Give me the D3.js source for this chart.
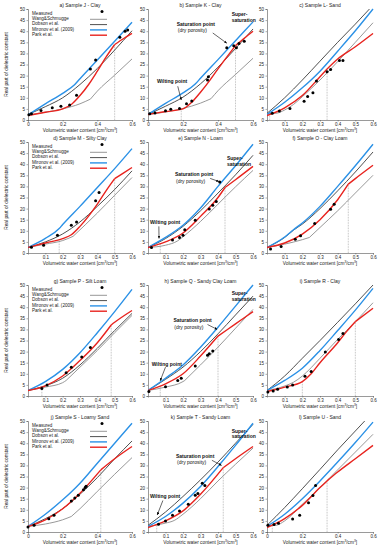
<!DOCTYPE html>
<html><head><meta charset="utf-8">
<script src="https://cdn.jsdelivr.net/npm/d3@7"></script>
<style>
html,body{margin:0;padding:0;background:#fff;}
svg{display:block;font-family:"Liberation Sans",Arial,sans-serif;}
</style></head><body>
<script>
// ---------- DATA ----------
const titles = ["a) Sample J - Clay","b) Sample K - Clay","c) Sample L- Sand",
  "d) Sample M - Silty Clay","e) Sample N - Loam","f) Sample O - Clay Loam",
  "g) Sample P - Silt Loam","h) Sample Q - Sandy Clay Loam","i) Sample R - Clay",
  "j) Sample S - Loamy Sand","k) Sample T - Sandy Loam","l) Sample U - Sand"];
const seriesNames = ["Measured","Wang&Schmugge","Dobson et al.","Mironov et al. (2009)","Park et al."];
const yTicks = [0,5,10,15,20,25,30,35,40,45,50];
const xTicksCoarse = [0,0.2,0.4,0.6];
const xTicksFine = [0.1,0.2,0.3,0.4,0.5,0.6];

const measured = [
 [[0.005,2.4],[0.02,2.8],[0.075,4.3],[0.14,5.5],[0.19,6.2],[0.24,6.8],[0.28,11.2],[0.36,23],[0.39,27],[0.53,37.3],[0.56,40],[0.575,40.5]],
 [[0.01,2.8],[0.04,3.2],[0.1,4.2],[0.13,4.8],[0.18,5.2],[0.22,7.3],[0.25,8.6],[0.34,18],[0.345,19.5],[0.45,32.5],[0.49,33.5],[0.505,32.5],[0.52,34.5],[0.55,35.5]],
 [[0.03,3],[0.07,4],[0.13,5.2],[0.21,8.5],[0.23,10.6],[0.26,12.3],[0.28,17.6],[0.34,21.7],[0.36,22.8],[0.41,26.8],[0.43,26.8]],
 [[0.02,2.6],[0.09,3.5],[0.17,8],[0.25,12.5],[0.28,14],[0.39,23.5],[0.41,27.3]],
 [[0.02,2.5],[0.14,5.8],[0.18,7],[0.2,8],[0.21,10.5],[0.27,14.8],[0.35,19.8],[0.37,21.5],[0.39,23.2],[0.41,32]],
 [[0.02,1.8],[0.08,2.9],[0.16,6.2],[0.19,7.8],[0.27,13.3],[0.36,19.7],[0.38,22]],
 [[0.08,3.4],[0.11,4.9],[0.22,10.5],[0.25,13],[0.31,17.6],[0.36,21.8]],
 [[0.005,2],[0.1,4.2],[0.17,7],[0.19,8],[0.27,13.5],[0.34,18.3],[0.35,19],[0.37,20.3]],
 [[0.005,1.8],[0.035,2.3],[0.06,3],[0.115,4.1],[0.145,5],[0.215,8.9],[0.25,11],[0.33,19.8],[0.405,25.5],[0.43,28.2]],
 [[0.0,2.3],[0.035,3],[0.12,6],[0.15,7.5],[0.25,14],[0.27,15.3],[0.29,16.5],[0.32,19],[0.33,20],[0.335,20.6]],
 [[0.06,3.5],[0.1,4.9],[0.14,7.5],[0.18,9.5],[0.23,12.5],[0.27,16.5],[0.285,17.3],[0.31,22],[0.325,21]],
 [[0.005,3],[0.04,3.4],[0.065,3.9],[0.145,5.8],[0.185,7.5],[0.235,13.2],[0.26,16.4],[0.275,21]]
];
const wang = [
 [[0,2.3],[0.1,3.5],[0.2,5],[0.3,7.3],[0.36,9.4],[0.4,13],[0.5,20.2],[0.6,27.5]],
 [[0,2.5],[0.1,3.6],[0.2,5.2],[0.3,7.6],[0.36,9.6],[0.4,13.2],[0.5,20.5],[0.6,27.8]],
 [[0,2.8],[0.05,3],[0.1,4.5],[0.15,7],[0.2,10.5],[0.3,18],[0.4,26.3],[0.5,35],[0.6,43.8]],
 [[0,2.5],[0.1,4],[0.2,5.6],[0.26,7.5],[0.4,18],[0.5,26],[0.6,34]],
 [[0,2.5],[0.1,3.5],[0.17,5.5],[0.2,7.3],[0.3,14.2],[0.4,22],[0.5,29.8],[0.6,37.2]],
 [[0,2.5],[0.1,4],[0.2,6],[0.24,7],[0.3,11.5],[0.4,19],[0.5,27],[0.6,35]],
 [[0,2.5],[0.1,4],[0.2,6],[0.22,7],[0.3,13],[0.4,20.5],[0.5,28.5],[0.6,36.3]],
 [[0,2.5],[0.1,4],[0.2,6.5],[0.21,7],[0.3,14],[0.4,22],[0.5,30.5],[0.6,39]],
 [[0,2.5],[0.1,4.5],[0.15,6.2],[0.2,9],[0.3,17],[0.4,25.5],[0.5,33.5],[0.6,42]],
 [[0,2.5],[0.1,3.6],[0.2,5.5],[0.25,7],[0.3,10.5],[0.4,18.3],[0.5,26],[0.6,33.5]],
 [[0,2.5],[0.1,4],[0.15,5.2],[0.2,8],[0.3,15],[0.4,23],[0.5,30.5],[0.6,37.8]],
 [[0,2.8],[0.05,3],[0.1,5],[0.2,12.5],[0.3,20],[0.4,28],[0.5,36],[0.6,44]]
];
const dobson = [
 [[0,2.5],[0.1,6],[0.2,10],[0.3,16],[0.4,23.2],[0.5,31.5],[0.6,40.2]],
 [[0,2.5],[0.1,6.2],[0.2,10.3],[0.3,16.3],[0.4,23.8],[0.5,32.2],[0.6,41]],
 [[0,3],[0.1,10],[0.2,18],[0.3,26.5],[0.4,35],[0.5,43.2],[0.58,50]],
 [[0,2.5],[0.1,5],[0.2,8.6],[0.3,14],[0.4,21],[0.5,28.6],[0.6,37]],
 [[0,2.5],[0.1,6.5],[0.2,12],[0.3,19],[0.4,27],[0.5,35.2],[0.6,44]],
 [[0,2.5],[0.1,7],[0.15,10.3],[0.2,13],[0.3,20],[0.4,28],[0.5,36.5],[0.6,45.5]],
 [[0,2.5],[0.1,4.6],[0.2,8],[0.3,14],[0.4,21.5],[0.5,29.5],[0.6,37.2]],
 [[0,2.5],[0.1,7.5],[0.2,13],[0.3,20],[0.4,28],[0.5,36.5],[0.6,45]],
 [[0,2.5],[0.1,9],[0.2,17],[0.3,25],[0.4,33.2],[0.5,41.5],[0.6,50]],
 [[0,2.5],[0.1,6],[0.2,10.5],[0.3,17],[0.4,24.5],[0.5,33],[0.6,41]],
 [[0,3],[0.1,9],[0.2,16],[0.3,23.5],[0.4,31.5],[0.5,40],[0.6,48.5]],
 [[0,3],[0.1,11],[0.2,19.5],[0.3,28.2],[0.4,37],[0.5,45.5],[0.553,50]]
];
const mironov = [
 [[0,2.3],[0.1,7.3],[0.2,12],[0.27,16],[0.3,18.6],[0.4,27],[0.5,35.5],[0.6,44]],
 [[0,2.5],[0.1,7.5],[0.2,12.2],[0.27,16.2],[0.3,18.8],[0.4,27.2],[0.5,35.7],[0.6,44.2]],
 [[0,2.5],[0.1,8],[0.2,14.5],[0.3,22],[0.4,31],[0.5,40.2],[0.6,50]],
 [[0,2.5],[0.1,6.6],[0.18,11],[0.2,12.8],[0.3,21],[0.4,29.5],[0.5,38],[0.6,47]],
 [[0,2.5],[0.1,7],[0.2,12.5],[0.3,20.3],[0.4,30],[0.5,39.3],[0.6,49]],
 [[0,2.5],[0.1,7.2],[0.15,10.5],[0.2,13.5],[0.3,21],[0.4,30],[0.5,39.3],[0.6,49]],
 [[0,2.5],[0.1,6.5],[0.2,12],[0.3,19.5],[0.4,28.5],[0.5,38],[0.6,48]],
 [[0,2.5],[0.1,8],[0.2,14],[0.3,22],[0.4,31],[0.5,40.5],[0.6,50]],
 [[0,2.5],[0.1,7],[0.2,12.5],[0.3,20.5],[0.4,29.5],[0.5,38.7],[0.6,48.5]],
 [[0,2.5],[0.1,8],[0.2,14.5],[0.3,22],[0.4,31],[0.5,40],[0.6,49]],
 [[0,2.5],[0.1,7],[0.2,13],[0.3,20.5],[0.4,29.5],[0.5,39],[0.6,49]],
 [[0,2.5],[0.1,8],[0.2,15],[0.3,23],[0.4,31.5],[0.5,40.3],[0.6,49.5]]
];
const park = [
 [[0,2],[0.1,3.5],[0.2,5],[0.25,7],[0.3,11],[0.35,16],[0.4,22],[0.45,28.3],[0.5,34],[0.55,36.6],[0.6,39]],
 [[0,2.5],[0.1,3.8],[0.2,5],[0.25,8],[0.3,12.5],[0.35,17.5],[0.4,23],[0.45,28.3],[0.5,33.5],[0.55,36.8],[0.6,40]],
 [[0,2],[0.1,5.5],[0.2,11],[0.3,19.5],[0.34,23],[0.4,27.5],[0.5,33],[0.6,39]],
 [[0,2.5],[0.1,4.5],[0.2,6.5],[0.25,8.2],[0.3,12],[0.4,22],[0.45,28],[0.5,33.5],[0.55,36],[0.6,38.5]],
 [[0,2.5],[0.1,5],[0.2,9],[0.3,16.5],[0.4,25],[0.44,29.5],[0.5,33],[0.6,39]],
 [[0,2.5],[0.1,4.5],[0.2,8.5],[0.3,15],[0.4,24],[0.46,31],[0.5,33.5],[0.6,39.5]],
 [[0,2.5],[0.1,4.6],[0.2,9],[0.3,16],[0.4,24],[0.48,32],[0.5,33.2],[0.6,38.5]],
 [[0,2.5],[0.1,5.5],[0.2,10],[0.3,18],[0.4,27],[0.5,32.5],[0.6,38]],
 [[0,2],[0.1,4],[0.2,6.5],[0.25,10],[0.3,15],[0.4,24],[0.45,29],[0.5,33.5],[0.6,39.5]],
 [[0,2.5],[0.1,5.5],[0.2,10.5],[0.3,17.5],[0.42,28],[0.5,33],[0.6,38.5]],
 [[0,2],[0.1,5],[0.2,9.5],[0.3,17],[0.43,29],[0.5,33],[0.6,38.5]],
 [[0,2],[0.1,6],[0.2,12],[0.3,20],[0.34,23],[0.4,27],[0.5,33],[0.6,39]]
];
// saturation (dry porosity) and wilting point water contents per panel
const porosity = [0.5,0.5,0.34,0.5,0.44,0.46,0.48,0.40,0.5,0.42,0.43,0.34];
const wilting  = [null,0.19,0.015,0.18,0.07,null,0.08,0.07,0.2,null,0.05,0.03];
const kinks    = [0.5,0.5,0.34,0.5,0.44,0.46,0.48,0.40,0.5,0.42,0.43,0.34];
const wangKinks= [0.36,0.36,null,0.26,null,0.24,0.22,0.21,null,0.25,null,null];
const coarseTickPanels = [0,1,9,11];

// ---------- LAYOUT ----------
const W=379,H=550;
const cols=[{x:28,w:104},{x:148,w:105},{x:267,w:106}];
const rows=[{y:9,h:111},{y:142,h:111},{y:285,h:111},{y:421,h:111}];
const C={meas:"#000",wang:"#8c8c8c",dobson:"#3c3c3c",mironov:"#2b91e6",park:"#e8231e"};

const svg=d3.select("body").append("svg").attr("width",W).attr("height",H);
const defs=svg.append("defs");
defs.append("marker").attr("id","arr").attr("viewBox","0 0 10 10").attr("refX",9).attr("refY",5)
  .attr("markerWidth",5).attr("markerHeight",5).attr("orient","auto")
  .append("path").attr("d","M0,1 L10,5 L0,9 z").attr("fill","#000");

// annotations in data coordinates
const annots = {
 1:{sat:[0.164,43.2],dry:[0.17,40.4],satArrow:[[0.37,39.2],[0.45,34.6]],sup:[0.478,47.6],wil:[0.051,17.3],wilArrow:[[0.17,15.2],[0.19,9]]},
 4:{sat:[0.154,35.5],dry:[0.16,32.4],satArrow:[[0.355,33.6],[0.405,32.2]],sup:[0.451,42.7],wil:[0.011,13.8],wilArrow:[[0.062,12],[0.063,6.6]]},
 7:{sat:[0.145,33.9],dry:[0.15,31.1],satArrow:[[0.34,32.2],[0.395,30]],sup:[0.478,46.2],wil:[0.021,14.3],wilArrow:[[0.1,13],[0.07,6.9]]},
 10:{sat:[0.16,34.3],dry:[0.166,31.4],satArrow:[[0.365,32.3],[0.42,30]],sup:[0.478,45.5],wil:[0.011,15.9],wilArrow:[[0.085,14.2],[0.053,7.7]]}
};

titles.forEach((t,i)=>{
  const r=rows[Math.floor(i/3)], c=cols[i%3];
  const g=svg.append("g").attr("transform",`translate(${c.x},${r.y})`);
  const x=d3.scaleLinear().domain([0,0.6]).range([0,c.w]);
  const y=d3.scaleLinear().domain([0,50]).range([r.h,0]);

  g.append("text").attr("x",c.w/2).attr("y",-2).attr("text-anchor","middle")
    .attr("font-size",5).attr("fill","#222").text(t);

  const xt = coarseTickPanels.includes(i)? xTicksCoarse : xTicksFine;
  const xa=g.append("g").attr("transform",`translate(0,${r.h})`)
    .call(d3.axisBottom(x).tickValues(xt).tickSize(1.5).tickPadding(1.5).tickFormat(d=>d===0?"0":d3.format(".1f")(d)));
  const ya=g.append("g").call(d3.axisLeft(y).tickValues(yTicks).tickSize(1.5).tickPadding(1.5));
  [xa,ya].forEach(a=>{a.selectAll("path").attr("stroke","#555").attr("stroke-width",0.6);
    a.selectAll("line").attr("stroke","#555").attr("stroke-width",0.5);
    a.selectAll("text").attr("font-size",4.5).attr("fill","#222").attr("font-family","Liberation Sans, Arial, sans-serif");});

  g.append("text").attr("x",c.w/2).attr("y",r.h+11.5).attr("text-anchor","middle")
    .attr("font-size",4.8).attr("fill","#222")
    .html('Volumetric water content [cm<tspan dy="-1.5" font-size="3.3">3</tspan><tspan dy="1.5">/cm</tspan><tspan dy="-1.5" font-size="3.3">3</tspan><tspan dy="1.5">]</tspan>');
  if(i%3===0){
    g.append("text").attr("transform",`translate(${8-c.x},${r.h/2}) rotate(-90)`)
      .attr("text-anchor","middle").attr("font-size",4.8).attr("fill","#222").text("Real  part of dielectric constant");
  }

  const parkInterp = xv=>{const p=park[i];for(let k=1;k<p.length;k++){if(xv<=p[k][0]){const a=p[k-1],b=p[k];return a[1]+(b[1]-a[1])*(xv-a[0])/(b[0]-a[0]);}}return p[p.length-1][1];};
  [porosity[i],wilting[i]].forEach(v=>{ if(v==null) return;
    g.append("line").attr("x1",x(v)).attr("x2",x(v)).attr("y1",y(0)).attr("y2",y(parkInterp(v)))
      .attr("stroke","#777").attr("stroke-width",0.5).attr("stroke-dasharray","0.8,0.8");
  });

  const clip="clip"+i;
  defs.append("clipPath").attr("id",clip).append("rect").attr("x",0).attr("y",-1).attr("width",c.w+1).attr("height",r.h+1);
  const pg=g.append("g").attr("clip-path",`url(#${clip})`);
  const smooth=d3.line().x(d=>x(d[0])).y(d=>y(d[1])).curve(d3.curveMonotoneX);
  const split=(arr,k)=>{ if(k==null) return [arr];
    return [arr.filter(d=>d[0]<=k+1e-9), arr.filter(d=>d[0]>=k-1e-9)]; };
  split(wang[i],wangKinks[i]).forEach(s=>pg.append("path").attr("d",smooth(s)).attr("fill","none").attr("stroke",C.wang).attr("stroke-width",0.9));
  pg.append("path").attr("d",smooth(dobson[i])).attr("fill","none").attr("stroke",C.dobson).attr("stroke-width",0.9);
  pg.append("path").attr("d",smooth(mironov[i])).attr("fill","none").attr("stroke",C.mironov).attr("stroke-width",1.4);
  split(park[i],kinks[i]).forEach(s=>pg.append("path").attr("d",smooth(s)).attr("fill","none").attr("stroke",C.park).attr("stroke-width",1.4));
  g.selectAll("circle.m").data(measured[i]).enter().append("circle").attr("class","m")
    .attr("cx",d=>x(d[0])).attr("cy",d=>y(d[1])).attr("r",1.5).attr("fill",C.meas);

  if(i%3===0){
    const lg=g.append("g").attr("transform","translate(4,4)");
    const cols5=[C.meas,C.wang,C.dobson,C.mironov,C.park];
    seriesNames.forEach((n,k)=>{
      const yy=k*5.3;
      lg.append("text").attr("x",0).attr("y",yy).attr("dy","0.35em").attr("font-size",4.6).attr("fill","#222").text(n);
      if(k===0) lg.append("circle").attr("cx",70).attr("cy",yy-1.5).attr("r",1.5).attr("fill","#000");
      else lg.append("line").attr("x1",58).attr("x2",75).attr("y1",yy+1).attr("y2",yy+1)
        .attr("stroke",cols5[k]).attr("stroke-width",k>=3?1.4:0.9);
    });
  }

  const a=annots[i];
  if(a){
    const tx=(p,txt,bold)=>g.append("text").attr("x",x(p[0])).attr("y",y(p[1])).attr("dy","0.35em")
      .attr("font-size",5).attr("font-weight",bold?"bold":"normal").attr("fill","#111").text(txt);
    tx(a.sat,"Saturation point",true); tx(a.dry,"(dry porosity)",false);
    tx(a.wil,"Wilting point",true);
    const st=g.append("text").attr("x",x(a.sup[0])).attr("y",y(a.sup[1])).attr("font-size",5).attr("font-weight","bold").attr("fill","#111");
    st.append("tspan").attr("x",x(a.sup[0])).attr("dy","0.35em").text("Super-");
    st.append("tspan").attr("x",x(a.sup[0])).attr("dy","5.6").text("saturation");
    [a.satArrow,a.wilArrow].forEach(ar=>g.append("line").attr("x1",x(ar[0][0])).attr("y1",y(ar[0][1]))
      .attr("x2",x(ar[1][0])).attr("y2",y(ar[1][1])).attr("stroke","#000").attr("stroke-width",0.6).attr("marker-end","url(#arr)"));
  }
});
</script>
</body></html>
